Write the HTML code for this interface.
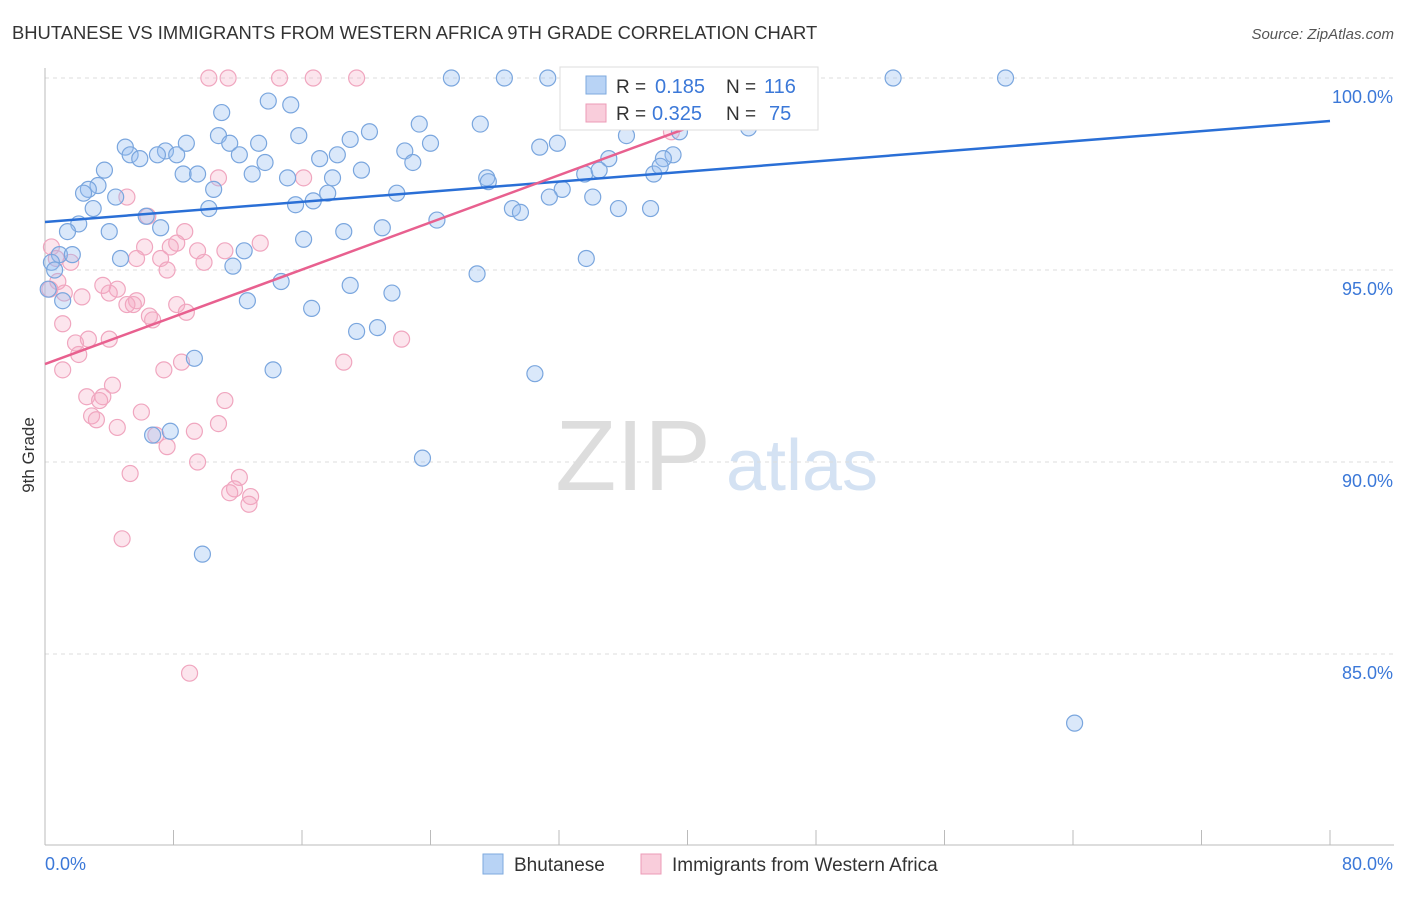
<!DOCTYPE html>
<html><head><meta charset="utf-8">
<style>
body{margin:0;background:#fff;font-family:"Liberation Sans",sans-serif;}
svg text{font-family:"Liberation Sans",sans-serif;}
</style></head>
<body>
<svg id="chart" width="1406" height="892" xmlns="http://www.w3.org/2000/svg">
<text x="12" y="39" font-size="18.4" fill="#333">BHUTANESE VS IMMIGRANTS FROM WESTERN AFRICA 9TH GRADE CORRELATION CHART</text>
<text x="1394" y="39" font-size="15" fill="#555" text-anchor="end" font-style="italic">Source: ZipAtlas.com</text>
<text x="34" y="455" font-size="17" fill="#333" text-anchor="middle" transform="rotate(-90 34 455)">9th Grade</text>
<g>
<text x="633" y="490" font-size="100" fill="#ddd" text-anchor="middle" font-family="Liberation Serif, serif">ZIP</text>
<text x="802" y="490" font-size="72" fill="#d4e2f3" text-anchor="middle">atlas</text>
</g>
<g id="grid"></g><g id="axes"></g><g id="pts"></g><g id="trends"></g>
<g>
<rect x="560" y="67" width="258" height="63" fill="#fff" stroke="#ddd"/>
<rect x="586" y="76" width="20" height="18" fill="#b8d3f5" stroke="#7ea9de"/>
<rect x="586" y="104" width="20" height="18" fill="#f9cddb" stroke="#ec9bb7"/>
<text x="616" y="93" font-size="19" fill="#333">R =</text><text x="655" y="93" font-size="20" fill="#3b78d8">0.185</text>
<text x="726" y="93" font-size="19" fill="#333">N =</text><text x="764" y="93" font-size="20" fill="#3b78d8">116</text>
<text x="616" y="120" font-size="19" fill="#333">R =</text><text x="652" y="120" font-size="20" fill="#3b78d8">0.325</text>
<text x="726" y="120" font-size="19" fill="#333">N =</text><text x="769" y="120" font-size="20" fill="#3b78d8">75</text>
</g>
<g>
<rect x="483" y="854" width="20" height="20" fill="#b8d3f5" stroke="#7ea9de"/>
<text x="514" y="871" font-size="19" fill="#333">Bhutanese</text>
<rect x="641" y="854" width="20" height="20" fill="#f9cddb" stroke="#ec9bb7"/>
<text x="672" y="871" font-size="19" fill="#333">Immigrants from Western Africa</text>
</g>
</svg>
<script>
const yTicks=[100,95,90,85];
const yTickLabels=["100.0%","95.0%","90.0%","85.0%"];
const xTickLabels=["0.0%","80.0%"];
const blueX=[25.3,28.6,31.3,52.8,59.8,43.1,45.1,13.9,15.3,11.0,23.3,27.1,10.8,15.8,20.2,8.8,11.5,13.3,19.0,24.0,5.0,7.5,5.3,5.9,7.0,8.2,12.1,17.1,18.2,22.4,22.9,30.8,31.9,35.1,36.2,39.1,38.5,43.8,39.5,3.7,3.3,2.7,2.4,8.6,9.5,12.9,13.7,15.1,17.9,19.7,10.5,17.6,21.9,27.5,27.6,32.2,31.4,33.6,34.5,34.1,37.9,38.3,4.4,3.0,10.2,15.6,16.7,6.3,29.1,29.6,35.7,37.7,24.4,2.1,1.4,4.0,7.2,18.6,21.0,16.1,0.9,1.7,4.7,12.4,0.4,11.7,33.7,26.9,14.7,19.0,21.6,12.6,1.1,16.6,19.4,20.7,9.3,14.2,30.5,6.7,7.8,23.5,9.8,64.1,40.4,32.6,0.2,0.6];
const blueY=[100,100,100,100,100,100,99.8,99.4,99.3,99.1,98.8,98.8,98.5,98.5,98.6,98.3,98.3,98.3,98.4,98.3,98.2,98.1,98.0,97.9,98.0,98.0,98.0,97.9,98.0,98.1,97.8,98.2,98.3,97.9,98.5,98.0,97.9,98.7,98.6,97.6,97.2,97.1,97.0,97.5,97.5,97.5,97.8,97.4,97.4,97.6,97.1,97.0,97.0,97.4,97.3,97.1,96.9,97.5,97.6,96.9,97.5,97.7,96.9,96.6,96.6,96.7,96.8,96.4,96.6,96.5,96.6,96.6,96.3,96.2,96.0,96.0,96.1,96.0,96.1,95.8,95.4,95.4,95.3,95.5,95.2,95.1,95.3,94.9,94.7,94.6,94.4,94.2,94.2,94.0,93.4,93.5,92.7,92.4,92.3,90.7,90.8,90.1,87.6,83.2,99.2,99.2,94.5,95.0];
const pinkX=[10.2,11.4,14.6,16.7,19.4,33.5,40.0,39.0,10.8,16.1,5.1,6.4,8.7,8.2,13.4,6.2,7.8,11.2,9.5,0.4,5.7,7.2,9.9,1.6,7.6,0.8,3.6,4.5,2.3,4.0,5.7,5.1,5.5,8.2,8.8,6.7,6.5,1.1,2.7,4.0,22.2,1.9,2.1,8.5,7.4,18.6,1.1,4.2,2.6,3.6,3.4,11.2,6.0,2.9,3.2,10.8,4.5,9.3,6.9,7.6,9.5,5.3,12.1,11.8,11.5,12.8,12.7,4.8,9.0,0.3,0.7,1.2];
const pinkY=[100,100,100,100,100,100,98.9,98.6,97.4,97.4,96.9,96.4,96.0,95.7,95.7,95.6,95.6,95.5,95.5,95.6,95.3,95.3,95.2,95.2,95.0,94.7,94.6,94.5,94.3,94.4,94.2,94.1,94.1,94.1,93.9,93.7,93.8,93.6,93.2,93.2,93.2,93.1,92.8,92.6,92.4,92.6,92.4,92.0,91.7,91.7,91.6,91.6,91.3,91.2,91.1,91.0,90.9,90.8,90.7,90.4,90.0,89.7,89.6,89.3,89.2,89.1,88.9,88.0,84.5,94.5,95.3,94.4];
const blueTrendX=[0,80], blueTrendY=[96.25,98.88];
const pinkTrendX=[0,40], pinkTrendY=[92.55,98.7];
const NS="http://www.w3.org/2000/svg";
const xs=v=>45+v/80*1285, ys=v=>78+(100-v)*38.4;
function mk(t,a,p){const e=document.createElementNS(NS,t);for(const k in a)e.setAttribute(k,a[k]);p.appendChild(e);return e;}
const grid=document.getElementById('grid'),axes=document.getElementById('axes');
yTicks.forEach((t,i)=>{
 const l=mk('line',{x1:45,x2:1394,y1:ys(t),y2:ys(t),stroke:'#ddd','stroke-dasharray':'4,4'},grid);
 
 
 const tx=mk('text',{x:1393,y:ys(t)+25,'font-size':18,fill:'#3b78d8','text-anchor':'end'},axes);
 tx.textContent=yTickLabels[i];
 
 
});
const ax=mk('line',{x1:45,x2:45,y1:68,y2:845,stroke:'#bbb'},axes);


const bx=mk('line',{x1:45,x2:1394,y1:845,y2:845,stroke:'#bbb'},axes);


for(let i=0;i<=10;i++){const tk=mk('line',{x1:xs(i*8),x2:xs(i*8),y1:830,y2:845,stroke:'#bbb'},axes);
 
 }
[[0,'start',45],[80,'end',1393]].forEach((d,i)=>{const tx=mk('text',{x:d[2],y:870,'font-size':18,fill:'#3b78d8','text-anchor':d[1]},axes);tx.textContent=xTickLabels[i];
 
 });
const pts=document.getElementById('pts');
pinkX.forEach((x,i)=>{const c=mk('circle',{cx:xs(x),cy:ys(pinkY[i]),r:8,fill:'rgba(245,170,195,0.3)',stroke:'#f0a6bf','stroke-width':1.2},pts);
 
 });
blueX.forEach((x,i)=>{const c=mk('circle',{cx:xs(x),cy:ys(blueY[i]),r:8,fill:'rgba(150,190,240,0.35)',stroke:'#7aa6de','stroke-width':1.2},pts);
 
 });
const tr=document.getElementById('trends');
const b=mk('line',{x1:xs(blueTrendX[0]),y1:ys(blueTrendY[0]),x2:xs(blueTrendX[1]),y2:ys(blueTrendY[1]),stroke:'#2a6fd6','stroke-width':2.5},tr);


const p=mk('line',{x1:xs(pinkTrendX[0]),y1:ys(pinkTrendY[0]),x2:xs(pinkTrendX[1]),y2:ys(pinkTrendY[1]),stroke:'#e8608f','stroke-width':2.5},tr);


</script>
</body></html>
